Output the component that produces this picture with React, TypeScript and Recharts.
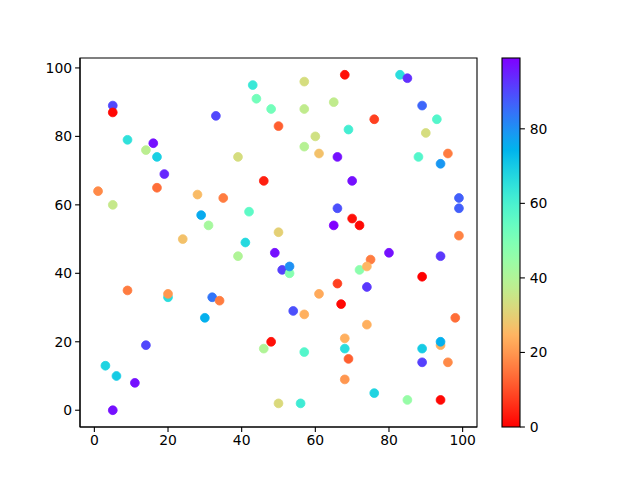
import React from 'react';
import { ScatterChart, Scatter, XAxis, YAxis, ReferenceArea } from 'recharts';

// Point data (x, y, colour value)
const xs = [5, 5, 43, 44, 48, 50, 33, 9, 16, 14, 17, 39, 19, 46, 1, 17, 28, 35, 5, 42, 29, 31, 24, 41, 50,
  57, 68, 83, 85, 57, 65, 89, 76, 93, 69, 60, 90, 57, 61, 66, 88, 96, 94, 70, 99, 99, 66, 70, 72, 65, 99,
  49, 39, 9, 20, 20, 32, 34, 30, 14, 48, 46, 3, 6, 11, 5, 50,
  51, 53, 53, 75, 72, 74, 80, 94, 89, 66, 74, 61, 67, 54, 57, 74, 98, 68, 68, 69, 68, 57, 89, 94, 94, 89, 96, 76, 56, 85, 94];
const ys = [89, 87, 95, 91, 88, 83, 86, 79, 78, 76, 74, 74, 69, 67, 64, 65, 63, 62, 60, 58, 57, 54, 50, 49, 52,
  96, 98, 98, 97, 88, 90, 89, 85, 85, 82, 80, 81, 77, 75, 74, 74, 75, 72, 67, 62, 59, 59, 56, 54, 54, 51,
  46, 45, 35, 33, 34, 33, 32, 27, 19, 20, 18, 13, 10, 8, 0, 2,
  41, 40, 42, 44, 41, 42, 46, 45, 39, 37, 36, 34, 31, 29, 28, 25, 27, 21, 18, 15, 9, 17, 18, 19, 20, 14, 14, 5, 2, 3, 3];
const cs = [90, 1, 63, 52, 52, 12, 90, 65, 97, 38, 69, 33, 94, 4, 18, 14, 26, 16, 36, 56, 76, 42, 27, 67, 30,
  33, 2, 66, 93, 37, 37, 86, 8, 58, 61, 34, 33, 39, 27, 97, 58, 16, 79, 97, 87, 87, 89, 2, 1, 99, 17,
  97, 40, 16, 66, 20, 84, 16, 75, 90, 2, 40, 68, 70, 97, 97, 32,
  91, 48, 80, 16, 47, 25, 97, 92, 0, 8, 92, 23, 1, 89, 24, 24, 14, 24, 66, 12, 20, 58, 70, 24, 75, 91, 18, 68, 62, 45, 1];

const xTicks = [0, 20, 40, 60, 80, 100];
const yTicks = [0, 20, 40, 60, 80, 100];
const cbTicks = [0, 20, 40, 60, 80];

const XDOMAIN: [number, number] = [-3.9, 103.9];
const YDOMAIN: [number, number] = [-4.9, 102.9];

const VMIN = 0;
const VMAX = 99;

function rainbowR(v: number): string {
  const t = 1 - (v - VMIN) / (VMAX - VMIN);
  const clamp = (a: number) => Math.max(0, Math.min(1, a));
  const r = clamp(Math.abs(2 * t - 0.5));
  const g = clamp(Math.sin(Math.PI * t));
  const b = clamp(Math.cos((Math.PI / 2) * t));
  const h = (a: number) => Math.round(a * 255).toString(16).padStart(2, '0');
  return '#' + h(r) + h(g) + h(b);
}

const data = xs.map((x, i) => ({ x, y: ys[i], c: cs[i] }));

const FONT = 'DejaVu Sans';
const tickStyle = { fill: '#000', fontSize: 13.9, fontFamily: FONT };

const PlotLeft = 80;
const PlotRight = 477;
const PlotTop = 58;
const PlotBottom = 427;

const Dot = (props: any) => {
  const { cx, cy, payload } = props;
  if (cx == null || cy == null) return null;
  const col = rainbowR(payload.c);
  return <circle cx={cx} cy={cy} r={4.4} fill={col} stroke={col} strokeWidth={0.8} />;
};

function Colorbar() {
  const x0 = 502, x1 = 520, y0 = PlotTop, y1 = PlotBottom;
  const stops = [];
  for (let i = 0; i <= 40; i++) {
    const f = i / 40;
    stops.push(<stop key={i} offset={f} stopColor={rainbowR(VMAX - f * (VMAX - VMIN))} />);
  }
  return (
    <svg width={640} height={480} style={{ position: 'absolute', left: 0, top: 0, pointerEvents: 'none' }}>
      <defs>
        <linearGradient id="cbgrad" x1="0" y1="0" x2="0" y2="1">{stops}</linearGradient>
      </defs>
      <rect x={x0} y={y0} width={x1 - x0} height={y1 - y0} fill="url(#cbgrad)" stroke="#000" strokeWidth={1.1} />
      {cbTicks.map((v) => {
        const y = y1 - ((v - VMIN) / (VMAX - VMIN)) * (y1 - y0);
        return (
          <g key={v}>
            <line x1={x1} x2={x1 + 4.9} y1={y} y2={y} stroke="#000" strokeWidth={1.1} />
            <text x={x1 + 9.7} y={y} dominantBaseline="central" fontSize={13.9} fontFamily={FONT} fill="#000">{v}</text>
          </g>
        );
      })}
    </svg>
  );
}

export default function App() {
  return (
    <div style={{ position: 'absolute', left: 0, top: 0, width: 640, height: 480, background: '#fff' }}>
      <ScatterChart
        width={640}
        height={480}
        margin={{ top: PlotTop, right: 640 - PlotRight, bottom: 480 - PlotBottom - 30, left: PlotLeft - 40 }}
      >
        <XAxis
          type="number"
          dataKey="x"
          domain={XDOMAIN}
          ticks={xTicks}
          allowDataOverflow
          height={30}
          tickSize={4.9}
          tickMargin={3}
          tick={tickStyle}
          axisLine={{ stroke: '#000', strokeWidth: 1.1 }}
          tickLine={{ stroke: '#000', strokeWidth: 1.1 }}
        />
        <YAxis
          type="number"
          dataKey="y"
          domain={YDOMAIN}
          ticks={yTicks}
          allowDataOverflow
          width={40}
          tickSize={4.9}
          tickMargin={3}
          tick={tickStyle}
          axisLine={{ stroke: '#000', strokeWidth: 1.1 }}
          tickLine={{ stroke: '#000', strokeWidth: 1.1 }}
        />
        <ReferenceArea
          x1={XDOMAIN[0]}
          x2={XDOMAIN[1]}
          y1={YDOMAIN[0]}
          y2={YDOMAIN[1]}
          fill="none"
          fillOpacity={0}
          stroke="#000"
          strokeWidth={1.1}
          ifOverflow="visible"
        />
        <Scatter data={data} shape={Dot} isAnimationActive={false} />
      </ScatterChart>
      <Colorbar />
    </div>
  );
}
